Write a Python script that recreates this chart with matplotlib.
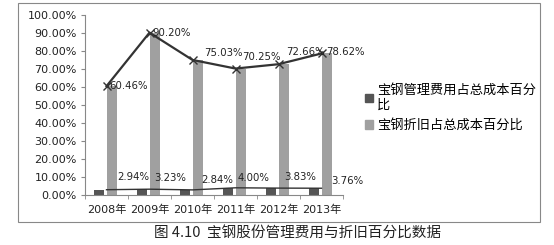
import matplotlib
matplotlib.use("Agg")
import matplotlib.pyplot as plt
import numpy as np
from matplotlib.patches import Rectangle

plt.rcParams['font.family'] = ['DejaVu Sans', 'Noto Sans CJK SC']

# ── data ──
years = ["2008年", "2009年", "2010年", "2011年", "2012年", "2013年"]
mgmt_pct = [2.94, 3.23, 2.84, 4.00, 3.83, 3.76]        # 管理费用占比
depr_pct = [60.46, 90.20, 75.03, 70.25, 72.66, 78.62]  # 折旧占比
yticks = [0, 10, 20, 30, 40, 50, 60, 70, 80, 90, 100]
legend_labels = ["宝钢管理费用占总成本百分\n比", "宝钢折旧占总成本百分比"]
caption = "图 4.10  宝钢股份管理费用与折旧百分比数据"

# label offsets (pt) relative to each point: (dx, dy)
depr_off = [(2, 0), (2, 0), (8.5, 5), (4.5, 8.5), (5.5, 8.5), (3, 1)]
mgmt_off = [(8, 9), (3.6, 8), (6.5, 7), (1.5, 7), (4.3, 8), (7, 5)]

fig = plt.figure(figsize=(5.54, 2.45), dpi=100)
fig.patch.set_facecolor("white")

# outer chart frame
fig.patches.append(Rectangle((18 / 554, 1 - 222 / 245), 522 / 554, 219 / 245,
                             transform=fig.transFigure, fill=False,
                             edgecolor="#888888", linewidth=0.8))

ax = fig.add_axes([85 / 554, 1 - 195 / 245, 258 / 554, 180 / 245])
x = np.arange(len(years))
w = 0.24
ax.bar(x - 0.17, mgmt_pct, width=w, color="#555555", zorder=2)
ax.bar(x + 0.13, depr_pct, width=w, color="#a0a0a0", zorder=2)
ax.plot(x, depr_pct, color="#333333", lw=1.6, marker="x", ms=6, mew=1.0, zorder=3)
ax.plot(x, mgmt_pct, color="#333333", lw=1.0, zorder=3)

for i, v in enumerate(depr_pct):
    ax.annotate(f"{v:.2f}%", (x[i], v), xytext=depr_off[i], textcoords="offset points",
                fontsize=7.3, color="#222222", va="center", ha="left")
for i, v in enumerate(mgmt_pct):
    ax.annotate(f"{v:.2f}%", (x[i], v), xytext=mgmt_off[i], textcoords="offset points",
                fontsize=7.3, color="#222222", va="center", ha="left")

ax.set_xlim(-0.5, len(years) - 0.5)
ax.set_ylim(0, 100)
ax.set_yticks(yticks)
ax.set_yticklabels([f"{t:.2f}%" for t in yticks], fontsize=8, color="#222222")
ax.set_xticks(x)
ax.set_xticklabels(years, fontsize=8, color="#222222")
ax.tick_params(axis="x", length=0, pad=7)
ax.set_xticks(np.arange(-0.5, len(years)), minor=True)
ax.tick_params(axis="x", which="minor", length=3, color="#888888")
ax.tick_params(axis="y", length=3, color="#888888", pad=3)
for s in ["top", "right"]:
    ax.spines[s].set_visible(False)
for s in ["left", "bottom"]:
    ax.spines[s].set_color("#888888")
    ax.spines[s].set_linewidth(0.8)

# legend
handles = [Rectangle((0, 0), 1, 1, color="#555555"), Rectangle((0, 0), 1, 1, color="#a0a0a0")]
fig.legend(handles, legend_labels, loc="upper left", bbox_to_anchor=(353 / 554, 1 - 72 / 245),
           frameon=False, handlelength=0.6, handleheight=0.6,
           handletextpad=0.3, labelspacing=0.55,
           prop={"family": ["Noto Sans CJK SC"], "size": 9.5})

fig.text(298 / 554, 1 - 233 / 245, caption, ha="center", va="center", fontsize=10.5,
         family=["Noto Sans CJK SC", "DejaVu Sans"], color="#222222")

fig.savefig("out.png", dpi=100)
